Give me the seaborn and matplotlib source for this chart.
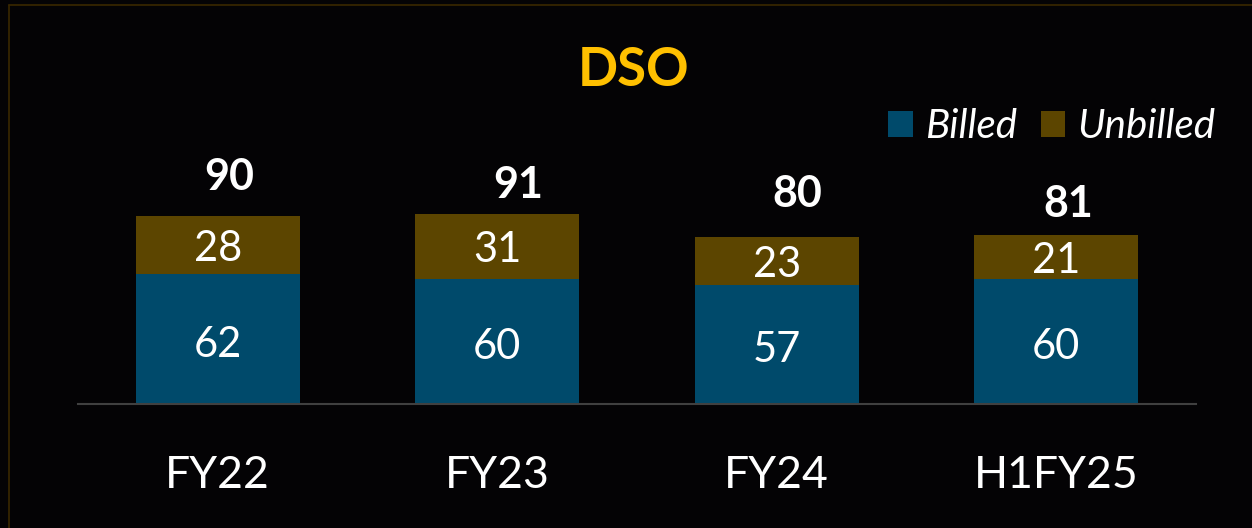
import numpy as np
import pandas as pd
import seaborn as sns
import matplotlib.pyplot as plt
from matplotlib.patches import Patch
from matplotlib.lines import Line2D

# Data
periods = ["FY22", "FY23", "FY24", "H1FY25"]
billed = [62, 60, 57, 60]
unbilled = [28, 31, 23, 21]

df = pd.DataFrame({"period": periods, "billed": billed, "unbilled": unbilled})
df["total"] = df["billed"] + df["unbilled"]

# Colours
bg = "#040305"
c_billed = "#004a6b"
c_unbilled = "#5c4500"

sns.set_theme(style="white")
plt.rcParams["font.family"] = ["Lato", "DejaVu Sans"]

fig = plt.figure(figsize=(12.52, 5.28), dpi=100, facecolor=bg)
ax = fig.add_axes([78 / 1252, 124 / 528, 1118 / 1252, 209 / 528])
ax.set_facecolor(bg)

# stacked bars: total (unbilled colour) behind billed
sns.barplot(data=df, x="period", y="total", color=c_unbilled, saturation=1,
            width=0.588, linewidth=0, edgecolor="none", ax=ax)
sns.barplot(data=df, x="period", y="billed", color=c_billed, saturation=1,
            width=0.588, linewidth=0, edgecolor="none", ax=ax)

ax.set_xlim(-0.5, 3.5)
ax.set_ylim(0, 100)
ax.set_xlabel("")
ax.set_ylabel("")
ax.set_yticks([])
for s in ["top", "left", "right"]:
    ax.spines[s].set_visible(False)
ax.spines["bottom"].set_color("#404040")
ax.spines["bottom"].set_linewidth(1.5)
ax.tick_params(axis="x", length=0, pad=37, labelsize=32, labelcolor="white")

# segment labels (a touch below the middle, as on the slide)
for i, row in df.iterrows():
    ax.annotate(str(row["billed"]), (i, row["billed"] / 2), xytext=(0, -4),
                textcoords="offset points", ha="center", va="center",
                color="white", fontsize=30)
    ax.annotate(str(row["unbilled"]), (i, row["billed"] + row["unbilled"] / 2),
                xytext=(0, -3), textcoords="offset points", ha="center",
                va="center", color="white", fontsize=30)

# total labels (nudged like the original slide)
nudges = [(8, 28), (15, 21), (15, 31), (9, 22)]
for i, row in df.iterrows():
    ax.annotate(str(row["total"]), (i, row["total"]), xytext=nudges[i],
                textcoords="offset points", ha="center", va="center",
                color="white", fontsize=31, fontweight="bold",
                annotation_clip=False)

# title
fig.text(634 / 1252, 1 - 70 / 528, "DSO", ha="center", va="center",
         color="#ffc000", fontsize=38, fontweight="bold")

# legend
handles = [Patch(facecolor=c_billed, edgecolor="none", label="Billed"),
           Patch(facecolor=c_unbilled, edgecolor="none", label="Unbilled")]
leg = fig.legend(handles=handles, loc="upper right", ncol=2, frameon=False,
                 bbox_to_anchor=(1215 / 1252, 1 - 108 / 528),
                 handlelength=0.6, handleheight=0.6, handletextpad=0.3,
                 columnspacing=0.6, borderpad=0, borderaxespad=0,
                 prop={"size": 29, "style": "italic"})
for t in leg.get_texts():
    t.set_color("white")

# thin border of the slide
border = "#3a2800"
fig.add_artist(Line2D([8.5 / 1252, 1], [1 - 4.5 / 528, 1 - 4.5 / 528],
                      color=border, linewidth=1.2))
fig.add_artist(Line2D([8.5 / 1252, 8.5 / 1252], [0, 1 - 4.5 / 528],
                      color=border, linewidth=1.2))

fig.savefig("out.png", dpi=100, facecolor=bg)
